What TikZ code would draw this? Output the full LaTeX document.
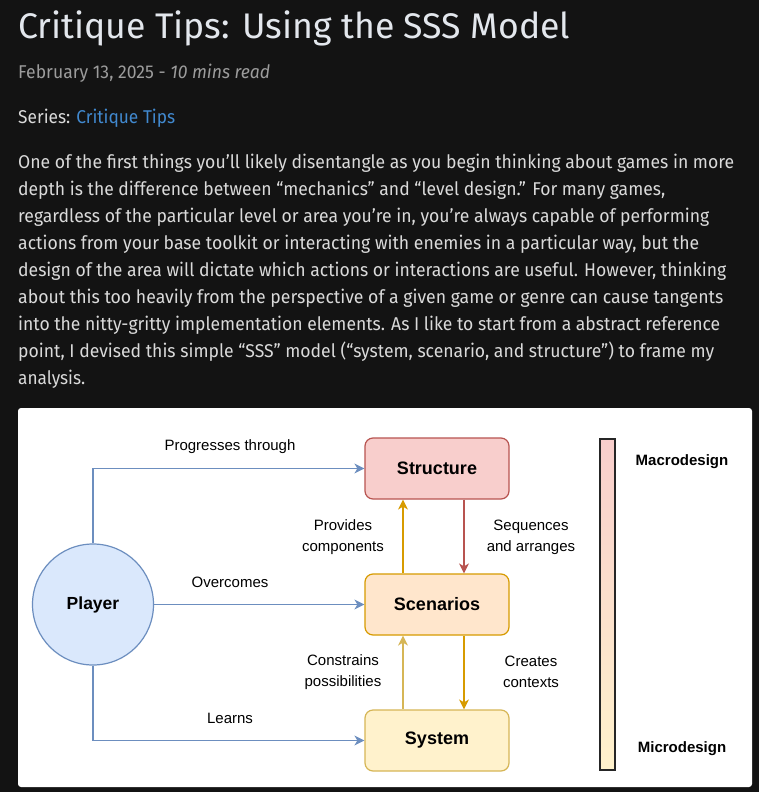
\documentclass[tikz,border=0pt]{standalone}
\usepackage{graphicx}
\usepackage{fontspec}
\setmainfont{Fira Sans}
\newfontfamily\drawfont{Liberation Sans}
\usetikzlibrary{arrows.meta,calc}
\definecolor{pagebg}{HTML}{131313}
\definecolor{titlefg}{HTML}{E3E7ED}
\definecolor{metafg}{HTML}{9C9C9C}
\definecolor{bodyfg}{HTML}{DADADA}
\definecolor{linkfg}{HTML}{4189CF}
\definecolor{playerfill}{HTML}{DAE8FC}
\definecolor{playerline}{HTML}{6C8EBF}
\definecolor{structfill}{HTML}{F8CECC}
\definecolor{structline}{HTML}{B85450}
\definecolor{scenfill}{HTML}{FFE6CC}
\definecolor{scenline}{HTML}{D79B00}
\definecolor{sysfill}{HTML}{FFF2CC}
\definecolor{sysline}{HTML}{D6B656}

\begin{document}
\begin{tikzpicture}[x=1pt,y=-1pt,>={Stealth[length=10pt,width=10pt,inset=3pt]},
  txt/.style={anchor=base west,inner sep=0pt,font=\fontsize{18.5}{22}\selectfont,text=bodyfg},
  box/.style={draw,rounded corners=8pt,line width=1.2pt,minimum width=144pt,minimum height=61pt,
    font=\drawfont\bfseries\fontsize{18}{22}\selectfont},
  lbl/.style={align=center,inner sep=0pt,font=\drawfont\fontsize{15}{21}\selectfont},
  flow/.style={->,line width=1.2pt}]
  \useasboundingbox (0,0) rectangle (759,792);
  \fill[pagebg] (0,0) rectangle (759,792);
  \node[anchor=base west,inner sep=0pt,text=titlefg,font=\fontsize{35.6}{40}\selectfont] (title) at (18,39) {Critique Tips: Using the SSS Model};
  \node[txt,text=metafg] (date) at (18,78) {\resizebox{252pt}{\height}{February 13, 2025 - \textit{10 mins read}}};
  \node[txt] (series) at (18,123) {\resizebox{157pt}{\height}{Series: \textcolor{linkfg}{Critique Tips}}};
  \foreach \w/\ln [count=\i] in {
    716/{One of the first things you’ll likely disentangle as you begin thinking about games in more},
    647/{depth is the difference between “mechanics” and “level design.” For many games,},
    691/{regardless of the particular level or area you’re in, you’re always capable of performing},
    681/{actions from your base toolkit or interacting with enemies in a particular way, but the},
    708/{design of the area will dictate which actions or interactions are useful. However, thinking},
    705/{about this too heavily from the perspective of a given game or genre can cause tangents},
    702/{into the nitty-gritty implementation elements. As I like to start from a abstract reference},
    696/{point, I devised this simple “SSS” model (“system, scenario, and structure”) to frame my},
    67/{analysis.}}
    \node[txt] (para\i) at (18,{141+27*\i}) {\resizebox{\w pt}{\height}{\ln}};
  \fill[white,rounded corners=3pt] (18,408) rectangle (752,787);
  \node[circle,draw=playerline,fill=playerfill,line width=1.2pt,minimum size=121pt,
    font=\drawfont\bfseries\fontsize{17.5}{21}\selectfont] (player) at (93,604.5) {Player};
  \node[box,draw=structline,fill=structfill] (struct) at (437,468.5) {Structure};
  \node[box,draw=scenline,fill=scenfill] (scen) at (437,604.5) {Scenarios};
  \node[box,draw=sysline,fill=sysfill] (sys) at (437,740.5) {System};
  \draw[flow,playerline] (player.north) |- (struct.west);
  \draw[flow,playerline] (player.east) -- (scen.west);
  \draw[flow,playerline] (player.south) |- (sys.west);
  \node[lbl] (progresses) at (230,446.5) {Progresses through};
  \node[lbl] (overcomes) at (230,582) {Overcomes};
  \node[lbl] (learns) at (230,718) {Learns};
  \draw[flow,scenline] ([xshift=-34pt]scen.north) -- ([xshift=-34pt]struct.south);
  \draw[flow,structline] ([xshift=27pt]struct.south) -- ([xshift=27pt]scen.north);
  \draw[flow,sysline] ([xshift=-34pt]sys.north) -- ([xshift=-34pt]scen.south);
  \draw[flow,scenline] ([xshift=27pt]scen.south) -- ([xshift=27pt]sys.north);
  \node[lbl] (provides) at (343,537) {Provides\\components};
  \node[lbl] (sequences) at (531,537) {Sequences\\and arranges};
  \node[lbl] (constrains) at (343,672) {Constrains\\possibilities};
  \node[lbl] (creates) at (531,672) {Creates\\contexts};
  \node[draw=black!85,line width=1.3pt,top color=structfill,bottom color=sysfill,
    minimum width=15pt,minimum height=331pt,inner sep=0pt] (scale) at (607.5,604.5) {};
  \node[font=\drawfont\bfseries\fontsize{15}{18}\selectfont] (macro) at (682,461.5) {Macrodesign};
  \node[font=\drawfont\bfseries\fontsize{15}{18}\selectfont] (micro) at (682,748.5) {Microdesign};
\end{tikzpicture}
\end{document}
